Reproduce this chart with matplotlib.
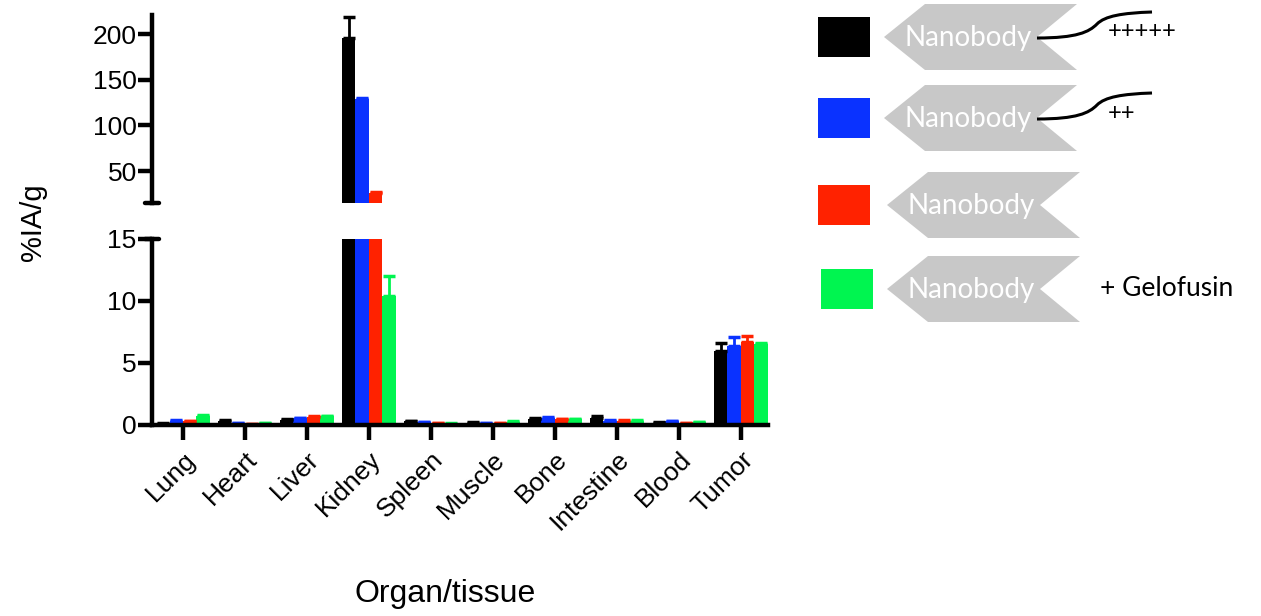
import numpy as np
import matplotlib
matplotlib.use("Agg")
import matplotlib.pyplot as plt
from matplotlib.path import Path
from matplotlib.patches import PathPatch, Polygon, Rectangle

plt.rcParams['font.family'] = ['Liberation Sans', 'DejaVu Sans']

# data (%IA/g)
organs = ["Lung", "Heart", "Liver", "Kidney", "Spleen", "Muscle", "Bone", "Intestine", "Blood", "Tumor"]
charge5 = [0.1, 0.35, 0.4, 196, 0.3, 0.2, 0.45, 0.6, 0.2, 6.0]
charge2 = [0.35, 0.15, 0.55, 129, 0.25, 0.15, 0.6, 0.35, 0.3, 6.4]
neutral = [0.3, 0.1, 0.65, 26, 0.15, 0.15, 0.45, 0.35, 0.15, 6.7]
gelofusin = [0.7, 0.15, 0.7, 10.4, 0.12, 0.25, 0.45, 0.35, 0.25, 6.55]

charge5_err = [0.05, 0.05, 0.05, 23, 0.05, 0.03, 0.08, 0.15, 0.03, 0.6]
charge2_err = [0.05, 0.03, 0.05, 1.5, 0.03, 0.03, 0.08, 0.05, 0.05, 0.7]
neutral_err = [0.05, 0.02, 0.05, 1.5, 0.02, 0.02, 0.05, 0.05, 0.02, 0.5]
gelofusin_err = [0.08, 0.03, 0.05, 1.6, 0.02, 0.05, 0.05, 0.03, 0.03, 0.1]

series = [charge5, charge2, neutral, gelofusin]
errors = [charge5_err, charge2_err, neutral_err, gelofusin_err]
colors = ["#000000", "#0A32FF", "#FF2200", "#00F550"]
tails = ["+++++", "++", None, None]
extra = [None, None, None, "+ Gelofusin"]

W, H = 1261, 616
fig = plt.figure(figsize=(W / 100, H / 100), dpi=100)

ax_low = fig.add_axes([152 / W, 1 - 425 / H, 616 / W, 186 / H])
ax_high = fig.add_axes([152 / W, 1 - 203 / H, 616 / W, 188 / H])

x = np.arange(len(organs))
bar_w = 0.2175
lw = 3.2

for ax in (ax_low, ax_high):
    for i, (vals, errs, col) in enumerate(zip(series, errors, colors)):
        pos = x + (i - 1.5) * bar_w
        ax.bar(pos, vals, width=bar_w, color=col, edgecolor="none")
        ax.errorbar(pos, vals, yerr=[np.zeros(len(errs)), errs], fmt="none",
                    ecolor=col, elinewidth=2, capsize=4, capthick=2.5)
    ax.set_xlim(-0.5, 9.44)
    for s in ("top", "right"):
        ax.spines[s].set_visible(False)
    ax.spines["left"].set_linewidth(lw)
    ax.spines["bottom"].set_linewidth(lw)
    ax.tick_params(axis="y", width=lw, length=10, labelsize=19, pad=1)

# lower part of the broken axis
ax_low.set_ylim(0, 15)
ax_low.set_yticks([0, 5, 10, 15])
ax_low.set_xticks(x)
ax_low.set_xticklabels(organs, rotation=45, ha="right", va="top",
                       rotation_mode="anchor", fontsize=19)
ax_low.tick_params(axis="x", width=lw, length=11, pad=5)

# upper part of the broken axis
ax_high.set_ylim(15, 221)
ax_high.set_yticks([50, 100, 150, 200])
ax_high.spines["bottom"].set_visible(False)
ax_high.set_xticks([])

# small horizontal caps marking the break
ax_high.plot([-0.012, 0.012], [0, 0], transform=ax_high.transAxes,
             color="black", lw=lw, clip_on=False, solid_capstyle="round")
ax_low.plot([-0.012, 0.012], [1, 1], transform=ax_low.transAxes,
            color="black", lw=lw, clip_on=False, solid_capstyle="round")

fig.text(33 / W, 1 - 222 / H, "%IA/g", rotation=90, fontsize=21,
         ha="center", va="center")
fig.text(445 / W, 1 - 594 / H, "Organ/tissue", fontsize=23,
         ha="center", va="center")

# hand drawn legend on an overlay in pixel coordinates
lg = fig.add_axes([0, 0, 1, 1])
lg.set_xlim(0, W)
lg.set_ylim(H, 0)
lg.axis("off")

row_y = [37, 118, 205, 289]
for k, (cy, col) in enumerate(zip(row_y, colors)):
    sx = 818 if k < 3 else 821
    lg.add_patch(Rectangle((sx, cy - 20), 52, 40, facecolor=col, edgecolor="none"))
    left = 884 + (k >= 2) * 3
    shape = [(left, cy), (left + 41, cy - 33), (left + 193, cy - 33),
             (left + 153, cy), (left + 193, cy + 33), (left + 41, cy + 33)]
    lg.add_patch(Polygon(shape, closed=True, facecolor="#c8c8c8", edgecolor="none"))
    lg.text(left + 84, cy + 1, "Nanobody", color="white", fontsize=20,
            family=["Lato", "DejaVu Sans"], ha="center", va="center")
    if tails[k]:
        x0 = left + 153
        verts = [(x0, cy + 1), (x0 + 40, cy + 1), (x0 + 52, cy - 5), (x0 + 60, cy - 13),
                 (x0 + 68, cy - 21), (x0 + 85, cy - 24), (x0 + 115, cy - 25)]
        codes = [Path.MOVETO] + [Path.CURVE4] * 6
        lg.add_patch(PathPatch(Path(verts, codes), facecolor="none",
                               edgecolor="black", lw=2.2))
        lg.text(1108, cy - 5, tails[k], fontsize=17, family=["Lato", "DejaVu Sans"],
                ha="left", va="center")
    if extra[k]:
        lg.text(1100, cy, extra[k], fontsize=19, family=["Lato", "DejaVu Sans"],
                ha="left", va="center")

fig.savefig("out.png", dpi=100)
